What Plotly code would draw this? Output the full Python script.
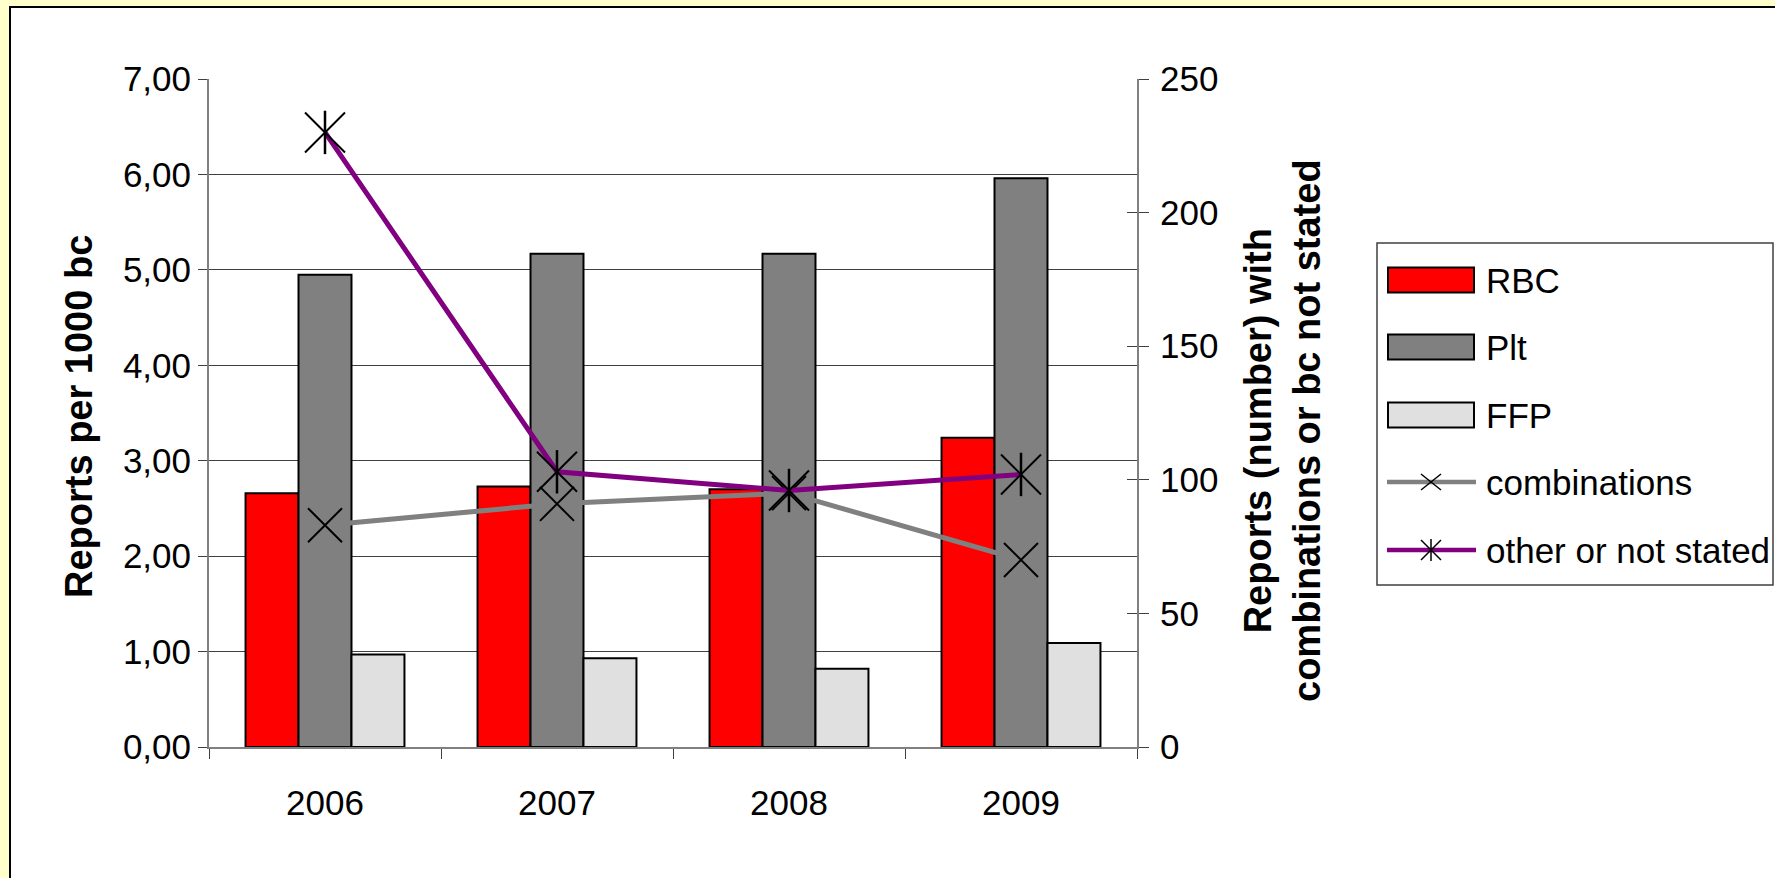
import plotly.graph_objects as go

# ---- data -------------------------------------------------------------
years = ["2006", "2007", "2008", "2009"]
rbc = [2.66, 2.73, 2.70, 3.24]
plt_reports = [4.95, 5.17, 5.17, 5.96]
ffp = [0.97, 0.93, 0.82, 1.09]
combinations = [83, 91, 95, 70]
other_not_stated = [230, 103, 96, 102]

left_ticks = [0, 1, 2, 3, 4, 5, 6, 7]
right_ticks = [0, 50, 100, 150, 200, 250]

legend_labels = ["RBC", "Plt", "FFP", "combinations", "other or not stated"]

# ---- styling ----------------------------------------------------------
FONT = "Liberation Sans, Arial, sans-serif"
W, H = 1775, 878
ML, MR, MT, MB = 209, 638, 79, 131
PW, PH = W - ML - MR, H - MT - MB

RED = "#FF0000"
DARK = "#808080"
LIGHT = "#E0E0E0"
PURPLE = "#800080"
AXIS = "#808080"
GRID = "#404040"


def px_x(px):
    return (px - ML) / PW


def px_y(py):
    return (H - MB - py) / PH


fig = go.Figure()

bar_line = dict(color="black", width=2)
fig.add_trace(go.Bar(x=years, y=rbc, name="RBC",
                     marker=dict(color=RED, line=bar_line)))
fig.add_trace(go.Bar(x=years, y=plt_reports, name="Plt",
                     marker=dict(color=DARK, line=bar_line)))
fig.add_trace(go.Bar(x=years, y=ffp, name="FFP",
                     marker=dict(color=LIGHT, line=bar_line)))

fig.add_trace(go.Scatter(
    x=years, y=combinations, name="combinations", yaxis="y2",
    mode="lines+markers",
    line=dict(color=DARK, width=5),
    marker=dict(symbol="x-thin-open", size=34, color="black",
                line=dict(color="black", width=2)),
))
fig.add_trace(go.Scatter(
    x=years, y=other_not_stated, name="other or not stated", yaxis="y2",
    mode="lines+markers",
    line=dict(color=PURPLE, width=5),
    marker=dict(symbol="x-thin-open", size=40, color="black",
                line=dict(color="black", width=2)),
))
# vertical stroke of the star marker
fig.add_trace(go.Scatter(
    x=years, y=other_not_stated, yaxis="y2", mode="markers",
    marker=dict(symbol="line-ns-open", size=31, color="black",
                line=dict(color="black", width=2.5)),
    hoverinfo="skip",
))

# ---- custom legend ----------------------------------------------------
shapes = []
annotations = []

# white panel with black frame
shapes.append(dict(type="rect", xref="paper", yref="paper", layer="below",
                   x0=px_x(10), x1=px_x(1800), y0=px_y(905), y1=px_y(7),
                   fillcolor="white", line=dict(color="black", width=2)))

# legend frame
shapes.append(dict(type="rect", xref="paper", yref="paper",
                   x0=px_x(1377), x1=px_x(1773), y0=px_y(585), y1=px_y(243),
                   fillcolor="white", line=dict(color="#404040", width=1.5)))

item_y = [280, 347, 415, 482, 550]
swatch_colors = [RED, DARK, LIGHT]
for cy, col in zip(item_y[:3], swatch_colors):
    shapes.append(dict(type="rect", xref="paper", yref="paper",
                       x0=px_x(1388), x1=px_x(1474),
                       y0=px_y(cy + 12.5), y1=px_y(cy - 12.5),
                       fillcolor=col, line=dict(color="black", width=2)))

for cy, col in zip(item_y[3:], [DARK, PURPLE]):
    shapes.append(dict(type="line", xref="paper", yref="paper",
                       x0=px_x(1387), x1=px_x(1476), y0=px_y(cy), y1=px_y(cy),
                       line=dict(color=col, width=4.5)))


def x_path(cx, cy, hw, hh):
    return (f"M{px_x(cx - hw)},{px_y(cy - hh)} L{px_x(cx + hw)},{px_y(cy + hh)} "
            f"M{px_x(cx - hw)},{px_y(cy + hh)} L{px_x(cx + hw)},{px_y(cy - hh)}")


shapes.append(dict(type="path", xref="paper", yref="paper",
                   path=x_path(1431, item_y[3], 10, 8),
                   line=dict(color="black", width=1.5)))
shapes.append(dict(type="path", xref="paper", yref="paper",
                   path=x_path(1431, item_y[4], 10, 10),
                   line=dict(color="black", width=1.5)))
shapes.append(dict(type="line", xref="paper", yref="paper",
                   x0=px_x(1431), x1=px_x(1431),
                   y0=px_y(item_y[4] - 11), y1=px_y(item_y[4] + 11),
                   line=dict(color="black", width=1.5)))

for cy, label in zip(item_y, legend_labels):
    annotations.append(dict(xref="paper", yref="paper", x=px_x(1484), y=px_y(cy),
                            xanchor="left", yanchor="middle", showarrow=False,
                            text=label, font=dict(family=FONT, size=35, color="black")))

# axis titles
annotations.append(dict(xref="paper", yref="paper", x=px_x(79), y=px_y(417),
                        xanchor="center", yanchor="middle", showarrow=False,
                        textangle=-90, text="<b>Reports per 1000 bc</b>",
                        font=dict(family=FONT, size=38, color="black")))
annotations.append(dict(xref="paper", yref="paper", x=px_x(1283), y=px_y(431),
                        xanchor="center", yanchor="middle", showarrow=False,
                        textangle=-90,
                        text="<b>Reports (number) with</b><br><b>combinations or bc not stated</b>",
                        font=dict(family=FONT, size=38, color="black")))

tick_font = dict(family=FONT, size=35, color="black")

fig.update_layout(
    width=W, height=H,
    margin=dict(l=ML, r=MR, t=MT, b=MB, pad=0),
    paper_bgcolor="#FFFFCC",
    plot_bgcolor="rgba(0,0,0,0)",
    separators=",.",
    showlegend=False,
    barmode="group",
    bargap=0.315,
    bargroupgap=0,
    font=dict(family=FONT, color="black"),
    xaxis=dict(
        type="category", tickson="boundaries",
        ticks="outside", ticklen=10, tickwidth=1, tickcolor="#404040",
        showline=True, linecolor=AXIS, linewidth=2,
        showgrid=False, tickfont=tick_font, ticklabelstandoff=24,
        automargin=False,
    ),
    yaxis=dict(
        range=[0, 7], tickvals=left_ticks, tickformat=".2f",
        ticks="outside", ticklen=9, tickwidth=1, tickcolor="#404040",
        showline=True, linecolor=AXIS, linewidth=2,
        showgrid=True, gridcolor=GRID, gridwidth=1,
        zeroline=False, tickfont=tick_font, automargin=False,
    ),
    yaxis2=dict(
        range=[0, 250], tickvals=right_ticks, overlaying="y", side="right",
        ticks="outside", ticklen=10, tickwidth=1, tickcolor="#404040",
        showline=True, linecolor=AXIS, linewidth=2,
        showgrid=False, zeroline=False, tickfont=tick_font,
        ticklabelstandoff=4, automargin=False,
    ),
    # inner half of the crossing ticks on the right axis
    yaxis3=dict(
        range=[0, 250], tickvals=right_ticks, overlaying="y", side="right",
        anchor="x", ticks="inside", ticklen=10, tickwidth=1, tickcolor="#404040",
        showticklabels=False, showline=False, showgrid=False, zeroline=False,
        automargin=False,
    ),
    shapes=shapes,
    annotations=annotations,
)

# invisible point so the inner-tick axis gets drawn
fig.add_trace(go.Scatter(x=[years[0]], y=[0], yaxis="y3", mode="markers",
                         marker=dict(opacity=0), hoverinfo="skip"))

fig.write_html("out.html")
